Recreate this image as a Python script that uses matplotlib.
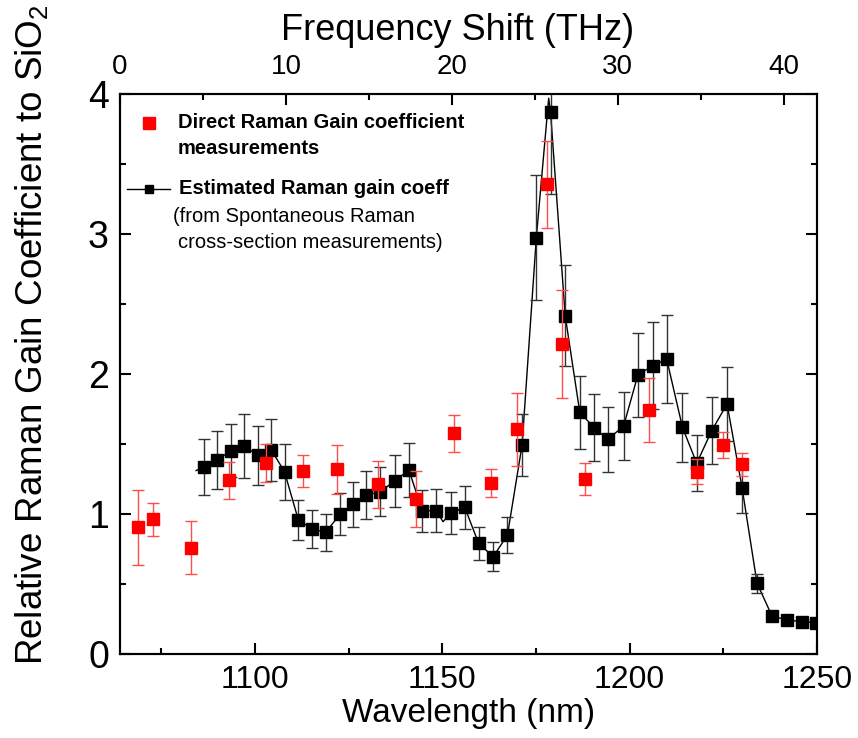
import matplotlib
matplotlib.use('Agg')
from matplotlib import pyplot as plt
from matplotlib.ticker import MultipleLocator

plt.rcParams['font.family'] = ['Liberation Sans', 'DejaVu Sans']
plt.rcParams['mathtext.fontset'] = 'custom'
plt.rcParams['mathtext.rm'] = 'Liberation Sans'
plt.rcParams['mathtext.it'] = 'Liberation Sans:italic'
plt.rcParams['mathtext.bf'] = 'Liberation Sans:bold'

# 直接测量的拉曼增益 (红色)
red_wl = [1068.9, 1072.9, 1082.9, 1093.1, 1102.9, 1112.9, 1121.9, 1132.9, 1142.9, 1153.0,
          1162.9, 1169.9, 1177.9, 1181.9, 1188.0, 1205.1, 1218.0, 1224.9, 1230.0]
red_val = [0.905, 0.962, 0.76, 1.24, 1.362, 1.307, 1.32, 1.212, 1.105, 1.576,
           1.219, 1.605, 3.355, 2.214, 1.25, 1.743, 1.302, 1.493, 1.355]
red_err = [0.27, 0.12, 0.19, 0.13, 0.135, 0.115, 0.175, 0.17, 0.2, 0.13,
           0.10, 0.26, 0.31, 0.385, 0.115, 0.232, 0.09, 0.095, 0.08]

# 由自发拉曼截面估算的增益 (黑色)
black_wl = [1086.5, 1090.0, 1093.5, 1097.1, 1100.7, 1104.4, 1107.9, 1111.6, 1115.3, 1118.9,
            1122.7, 1126.3, 1129.6, 1133.5, 1137.3, 1141.1, 1144.7, 1148.4, 1152.3, 1156.0,
            1159.7, 1163.6, 1167.4, 1171.3, 1175.1, 1178.9, 1182.8, 1186.7, 1190.5, 1194.2,
            1198.4, 1202.2, 1206.2, 1209.9, 1214.1, 1217.9, 1221.9, 1226.0, 1230.0, 1234.0,
            1238.0, 1242.0, 1246.0, 1249.6]
black_val = [1.338, 1.386, 1.452, 1.486, 1.42, 1.457, 1.302, 0.957, 0.893, 0.869,
             0.998, 1.069, 1.134, 1.16, 1.236, 1.314, 1.021, 1.024, 1.005, 1.048,
             0.79, 0.695, 0.85, 1.493, 2.974, 3.869, 2.417, 1.726, 1.617, 1.533,
             1.629, 1.993, 2.06, 2.105, 1.619, 1.362, 1.595, 1.786, 1.188, 0.505,
             0.271, 0.243, 0.231, 0.224]
black_err = [0.2, 0.21, 0.19, 0.226, 0.21, 0.22, 0.2, 0.143, 0.133, 0.13,
             0.15, 0.16, 0.17, 0.176, 0.184, 0.196, 0.153, 0.155, 0.15, 0.155,
             0.12, 0.105, 0.13, 0.22, 0.446, 0.58, 0.36, 0.26, 0.24, 0.23,
             0.245, 0.3, 0.31, 0.315, 0.245, 0.2, 0.24, 0.265, 0.18, 0.07,
             0, 0, 0, 0]

# 细线光谱上额外读出的几个点 (起点, 凹陷, 峰顶)
line_extra_wl = [1084.3, 1150.2, 1178.4]
line_extra_val = [1.31, 0.945, 3.97]

curve = sorted(zip(black_wl + line_extra_wl, black_val + line_extra_val))
curve_wl = [c[0] for c in curve]
curve_val = [c[1] for c in curve]

W, H = 858, 738
fig = plt.figure(figsize=(W / 100, H / 100), dpi=100)
ax = fig.add_axes([120 / W, 84 / H, 697 / W, 560 / H])
ax2 = ax.twiny()

ax.plot(curve_wl, curve_val, color='black', lw=1.0, zorder=2)
ax.errorbar(black_wl, black_val, yerr=black_err, fmt='s', color='black', ms=9,
            ecolor='#333333', elinewidth=1.0, capsize=4, capthick=1.0, zorder=3)
ax.errorbar(red_wl, red_val, yerr=red_err, fmt='s', color='red', ms=9,
            ecolor='#ff4d4d', elinewidth=1.0, capsize=4, capthick=1.0, zorder=4)

ax.set_xlim(1064, 1250)
ax.set_ylim(0, 4)
ax.xaxis.set_major_locator(MultipleLocator(50))
ax.xaxis.set_minor_locator(MultipleLocator(25))
ax.yaxis.set_major_locator(MultipleLocator(1))
ax.yaxis.set_minor_locator(MultipleLocator(0.5))
ax.tick_params(which='both', direction='in', right=True, top=False, width=1.5)
ax.tick_params(which='major', length=8)
ax.tick_params(which='minor', length=4.5)
ax.tick_params(axis='x', labelsize=23, pad=8)
ax.tick_params(axis='y', labelsize=27, pad=8)

ax2.set_xlim(0, 42)
ax2.xaxis.set_major_locator(MultipleLocator(10))
ax2.xaxis.set_minor_locator(MultipleLocator(5))
ax2.tick_params(which='both', direction='in', width=1.5)
ax2.tick_params(which='major', length=8, labelsize=20, pad=10)
ax2.tick_params(which='minor', length=4.5)

for a in (ax, ax2):
    for s in a.spines.values():
        s.set_linewidth(1.5)

ax.set_xlabel('Wavelength (nm)', fontsize=24, labelpad=2)
ax2.set_xlabel('Frequency Shift (THz)', fontsize=26, labelpad=10, x=0.484)
ax.set_ylabel('Relative Raman Gain Coefficient to SiO$_2$', fontsize=26.5)
ax.yaxis.set_label_coords(-0.1, 0.57)

# 图例 (手工绘制)
def fx(px):
    return (px - 120) / 697

def fy(py):
    return (654 - py) / 560

ax.plot([fx(149)], [fy(123)], 's', color='red', ms=8.6, transform=ax.transAxes, clip_on=False)
ax.plot([fx(127), fx(170)], [fy(189), fy(189)], '-', color='black', lw=1.0,
        transform=ax.transAxes, clip_on=False)
ax.plot([fx(149)], [fy(189)], 's', color='black', ms=5.8, transform=ax.transAxes, clip_on=False)

legend_lines = [(178, 123, 'Direct Raman Gain coefficient', 'bold'),
                (178, 149, 'measurements', 'bold'),
                (179, 189, 'Estimated Raman gain coeff', 'bold'),
                (173, 217, '(from Spontaneous Raman', 'normal'),
                (178, 242, 'cross-section measurements)', 'normal')]
for px, py, txt, wt in legend_lines:
    ax.text(fx(px), fy(py), txt, fontsize=14.5, fontweight=wt, ha='left', va='center',
            transform=ax.transAxes)

fig.savefig('out.png', dpi=100)
